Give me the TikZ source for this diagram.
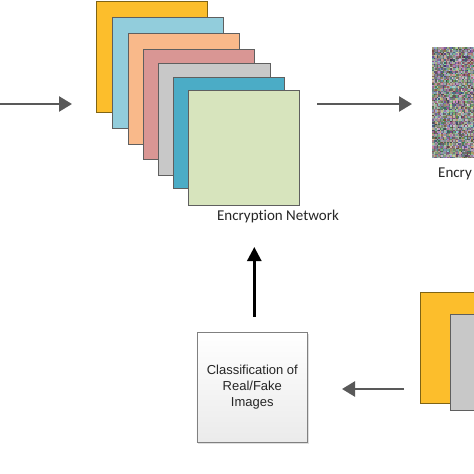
\documentclass[tikz,border=0pt]{standalone}
\usepackage{fontspec}
\setmainfont{Carlito}[Ligatures=NoCommon]
\newfontfamily\arialf{Liberation Sans}
\usetikzlibrary{arrows.meta,shadows}
\definecolor{cyel}{HTML}{FCBE2C}
\definecolor{cyelb}{HTML}{7F6415}
\definecolor{clb}{HTML}{92CDDC}
\definecolor{cpe}{HTML}{F9B98A}
\definecolor{cro}{HTML}{D99694}
\definecolor{cgr}{HTML}{C8C8C8}
\definecolor{cte}{HTML}{4BACC6}
\definecolor{cgn}{HTML}{D7E4BD}
\definecolor{cbd}{HTML}{5F5F5F}
\definecolor{carr}{HTML}{595959}
\definecolor{cbox}{HTML}{808080}
\tikzset{
  sq/.style={draw=cbd,line width=1pt,inner sep=0pt,outer sep=0pt},
  grarr/.style={draw=carr,line width=2.5pt,-{Triangle[length=13pt,width=15pt]}},
  blarr/.style={draw=black,line width=2.6pt,-{Triangle[length=14pt,width=14pt]}},
  clsbox/.style={draw=cbox,line width=0.9pt,top color=white,bottom color=black!8,
     minimum width=110.7pt,minimum height=110.4pt,inner sep=0pt,
     align=center,font=\arialf\fontsize{13}{16}\selectfont,text=black!85,
     drop shadow={shadow xshift=1.2pt,shadow yshift=-1.2pt,opacity=0.25}},
  lbl/.style={font=\fontsize{15}{18}\selectfont,text=black!85,inner sep=0pt}
}
\begin{document}
\begin{tikzpicture}[x=1pt,y=-1pt]
\useasboundingbox[fill=white] (0,0) rectangle (474,474);
\begin{scope}
\clip (0,0) rectangle (474,474);
% stacked feature maps
\node[sq,draw=cyelb,fill=cyel,minimum width=111pt,minimum height=111pt] (s1) at (151.5,56.5) {};
\node[sq,fill=clb,minimum width=111pt,minimum height=111pt] (s2) at (167.5,72.5) {};
\node[sq,fill=cpe,minimum width=111pt,minimum height=111pt] (s3) at (183.5,88.5) {};
\node[sq,fill=cro,minimum width=111pt,minimum height=110pt] (s4) at (198.5,104) {};
\node[sq,fill=cgr,minimum width=112pt,minimum height=112pt] (s5) at (214,119) {};
\node[sq,fill=cte,minimum width=111pt,minimum height=111pt] (s6) at (228.5,132.5) {};
\node[sq,fill=cgn,minimum width=111pt,minimum height=115pt] (s7) at (243.5,147.5) {};
\node[lbl] (enclbl) at (278,216.5) {Encryption Network};

% arrows top
\coordinate (a0) at (0,104);
\coordinate (a1) at (72,104);
\draw[grarr] (a0) -- (a1);
\coordinate (r0) at (317,104);
\coordinate (r1) at (412,104);
\draw[grarr] (r0) -- (r1);

% encrypted noise image
\node[inner sep=0pt,minimum width=46pt,minimum height=111pt,anchor=north west] (enc) at (432,47) {};
\pgfmathsetseed{4711}
\foreach \i in {0,...,27}{
  \foreach \j in {0,...,73}{
    \pgfmathsetmacro{\base}{90+random(0,90)}
    \pgfmathsetmacro{\rr}{int(max(0,min(255,\base+random(0,80)-40)))}
    \pgfmathsetmacro{\gg}{int(max(0,min(255,\base+random(0,80)-40)))}
    \pgfmathsetmacro{\bb}{int(max(0,min(255,\base+random(0,80)-40)))}
    \definecolor{noisec}{RGB}{\rr,\gg,\bb}
    \fill[noisec] (432+1.5*\i,47+1.5*\j) rectangle ++(1.5,1.5);
  }
}
\node[lbl,anchor=west] (enctxt) at (438,173.5) {Encry};

% classification box
\node[clsbox] (cls) at (252.3,387.5) {Classification of\\Real/Fake\\Images};
\coordinate (uptip) at (254.3,247);
\draw[blarr] (uptip |- cls.north) ++(0,-15) -- (uptip);

% bottom right stack
\node[sq,draw=cyelb,fill=cyel,minimum width=70pt,minimum height=111pt,anchor=north west] (b1) at (420,292) {};
\node[sq,fill=cgr,minimum width=40pt,minimum height=96pt,anchor=north west] (b2) at (450,314) {};
\coordinate (l0) at (404,389);
\coordinate (l1) at (342,389);
\draw[grarr] (l0) -- (l1);
\end{scope}
\end{tikzpicture}
\end{document}
